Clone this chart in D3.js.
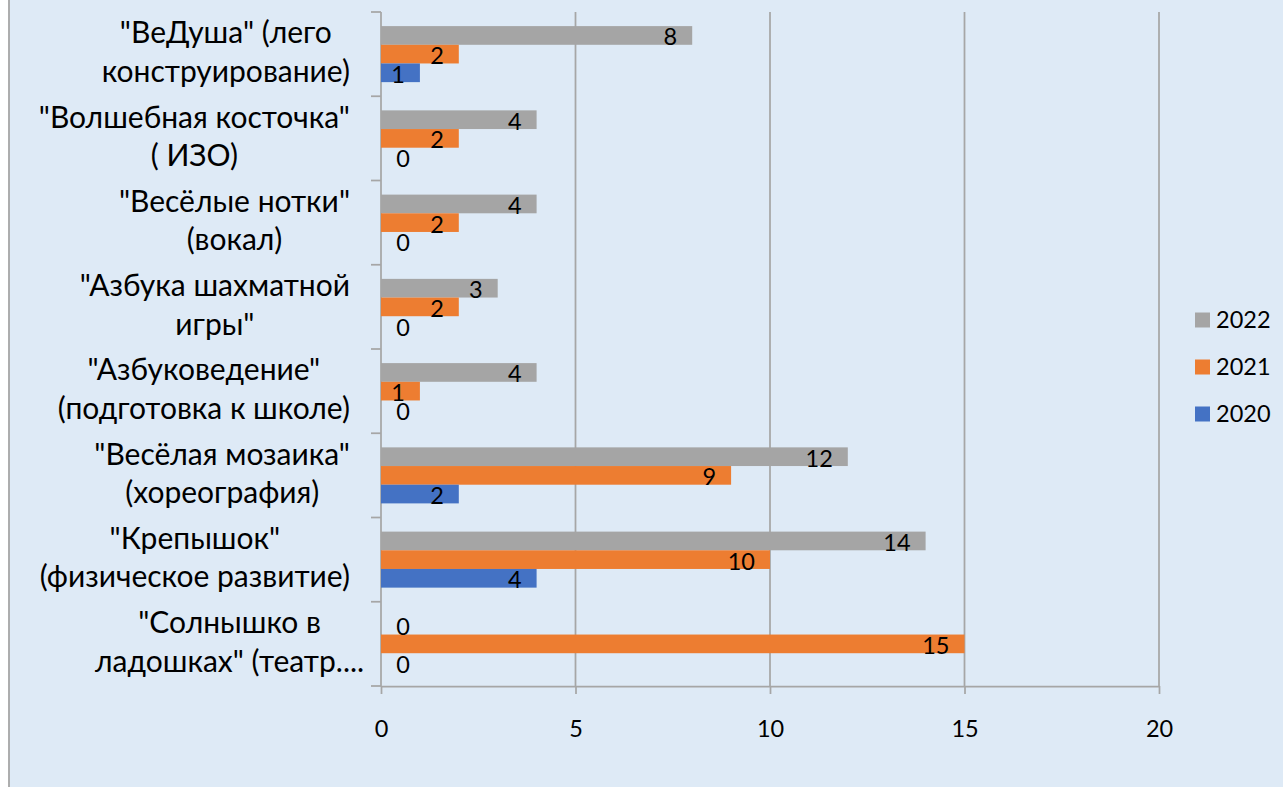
<!DOCTYPE html>
<html>
<head>
<meta charset="utf-8">
<script src="https://cdn.jsdelivr.net/npm/d3@7"></script>
<style>
	html, body { margin: 0; padding: 0; background: #fff; }
	svg { display: block; font-family: Lato, "Open Sans", sans-serif; }
	.c-bars__cat { font-size: 30px; fill: #000; }
	.c-bars__num { font-size: 23.5px; fill: #000; }
</style>
</head>
<body>
<svg id="chart" width="1283" height="787"></svg>
<script>
var categories = [
	["\"ВеДуша\" (лего", "конструирование)"],
	["\"Волшебная косточка\"", "( ИЗО)"],
	["\"Весёлые нотки\"", "(вокал)"],
	["\"Азбука шахматной", "игры\""],
	["\"Азбуковедение\"", "(подготовка к школе)"],
	["\"Весёлая мозаика\"", "(хореография)"],
	["\"Крепышок\"", "(физическое развитие)"],
	["\"Солнышко в", "ладошках\" (театр...."]
];
var seriesNames = ["2022", "2021", "2020"];
var values2022 = [8, 4, 4, 3, 4, 12, 14, 0];
var values2021 = [2, 2, 2, 2, 1, 9, 10, 15];
var values2020 = [1, 0, 0, 0, 0, 2, 4, 0];
var xTicks = [0, 5, 10, 15, 20];

var colors = {"2022": "#A5A5A5", "2021": "#ED7D31", "2020": "#4472C4"};
var seriesValues = {"2022": values2022, "2021": values2021, "2020": values2020};
var gridColor = "#A6A6A6";

var svg = d3.select("#chart");

//Background of the chart area, with the left border
svg.append("rect")
	.attr("x", 9).attr("y", 0)
	.attr("width", 1283 - 9).attr("height", 787)
	.attr("fill", "#DEEAF6");
svg.append("line")
	.attr("x1", 9).attr("x2", 9)
	.attr("y1", 0).attr("y2", 787)
	.attr("stroke", gridColor).attr("stroke-width", 1.8);

//Scales
var plot = {left: 381, right: 1159, top: 12, bottom: 686};
var catKeys = categories.map(function(d, i){ return "c" + i; });

var xScale = d3.scaleLinear()
	.domain([0, 20])
	.range([plot.left, plot.right]);

var yScale = d3.scaleBand()
	.domain(catKeys)
	.range([plot.top, plot.bottom])
	.paddingInner(0.335)
	.paddingOuter(0.1675);

var ySeries = d3.scaleBand()
	.domain(seriesNames)
	.range([0, yScale.bandwidth()]);

//Vertical gridlines
svg.append("g")
	.selectAll("line")
	.data(xTicks.slice(1))
	.enter().append("line")
	.attr("x1", function(d){ return xScale(d); })
	.attr("x2", function(d){ return xScale(d); })
	.attr("y1", plot.top)
	.attr("y2", plot.bottom)
	.attr("stroke", gridColor)
	.attr("stroke-width", 1.75);

//Bottom axis
var xAxis = d3.axisBottom(xScale)
	.tickValues(xTicks)
	.tickSizeInner(8)
	.tickSizeOuter(0)
	.tickPadding(26);

var gx = svg.append("g")
	.attr("transform", "translate(0," + plot.bottom + ")")
	.call(xAxis);
gx.select(".domain").attr("stroke", gridColor).attr("stroke-width", 1.75);
gx.selectAll(".tick line").attr("stroke", gridColor).attr("stroke-width", 1.75);
gx.selectAll(".tick text")
	.attr("font-size", 23.5)
	.attr("font-family", "Lato")
	.attr("fill", "#000");

//Left axis line and category boundary ticks
var step = yScale.step();
var bounds = d3.range(categories.length + 1).map(function(i){ return plot.top + i * step; });

svg.append("line")
	.attr("x1", plot.left).attr("x2", plot.left)
	.attr("y1", plot.top).attr("y2", plot.bottom)
	.attr("stroke", gridColor).attr("stroke-width", 1.75);

svg.append("g")
	.selectAll("line")
	.data(bounds)
	.enter().append("line")
	.attr("x1", plot.left - 10)
	.attr("x2", plot.left)
	.attr("y1", function(d){ return d; })
	.attr("y2", function(d){ return d; })
	.attr("stroke", gridColor)
	.attr("stroke-width", 1.75);

//Bars
var groups = svg.append("g")
	.selectAll("g")
	.data(catKeys)
	.enter().append("g")
	.attr("transform", function(d){ return "translate(0," + yScale(d) + ")"; });

groups.selectAll("rect")
	.data(function(d, i){
		return seriesNames.map(function(s){ return {key: s, val: seriesValues[s][i]}; });
	})
	.enter().append("rect")
	.attr("x", xScale(0))
	.attr("y", function(d){ return ySeries(d.key); })
	.attr("width", function(d){ return xScale(d.val) - xScale(0); })
	.attr("height", ySeries.bandwidth())
	.attr("fill", function(d){ return colors[d.key]; });

//Data labels (inside end, zero values sit just right of the axis)
groups.selectAll("text")
	.data(function(d, i){
		return seriesNames.map(function(s){ return {key: s, val: seriesValues[s][i]}; });
	})
	.enter().append("text")
	.attr("class", "c-bars__num")
	.attr("x", function(d){
		return d.val === 0 ? xScale(0) + 22 : xScale(d.val) - 15;
	})
	.attr("y", function(d){ return ySeries(d.key) + ySeries.bandwidth() / 2 + 10; })
	.attr("text-anchor", function(d){ return d.val === 0 ? "middle" : "end"; })
	.text(function(d){ return d.val; });

//Category labels, wrapped lines centred in a block that ends at the axis gap
var labelRight = 350;
var lineGap = 38.3;
categories.forEach(function(lines, i){
	var cy = yScale(catKeys[i]) + yScale.bandwidth() / 2;
	var t = svg.append("text").attr("class", "c-bars__cat");
	var widths = lines.map(function(l){
		var probe = t.append("tspan").text(l.replace(/\.+$/, ""));
		var w = probe.node().getComputedTextLength();
		probe.remove();
		return w;
	});
	var cx = labelRight - d3.max(widths) / 2;
	lines.forEach(function(l, j){
		t.append("tspan")
			.attr("x", cx)
			.attr("y", cy + (j - (lines.length - 1) / 2) * lineGap + 8.5)
			.attr("text-anchor", "middle")
			.text(l);
	});
});

//Legend
var legend = svg.append("g")
	.attr("transform", "translate(1195,320)");
var items = legend.selectAll("g")
	.data(seriesNames)
	.enter().append("g")
	.attr("transform", function(d, i){ return "translate(0," + (i * 47) + ")"; });
items.append("rect")
	.attr("x", 0).attr("y", -7.5)
	.attr("width", 15).attr("height", 15)
	.attr("fill", function(d){ return colors[d]; });
items.append("text")
	.attr("class", "c-bars__num")
	.attr("x", 21).attr("y", 8.3)
	.text(function(d){ return d; });
</script>
</body>
</html>
